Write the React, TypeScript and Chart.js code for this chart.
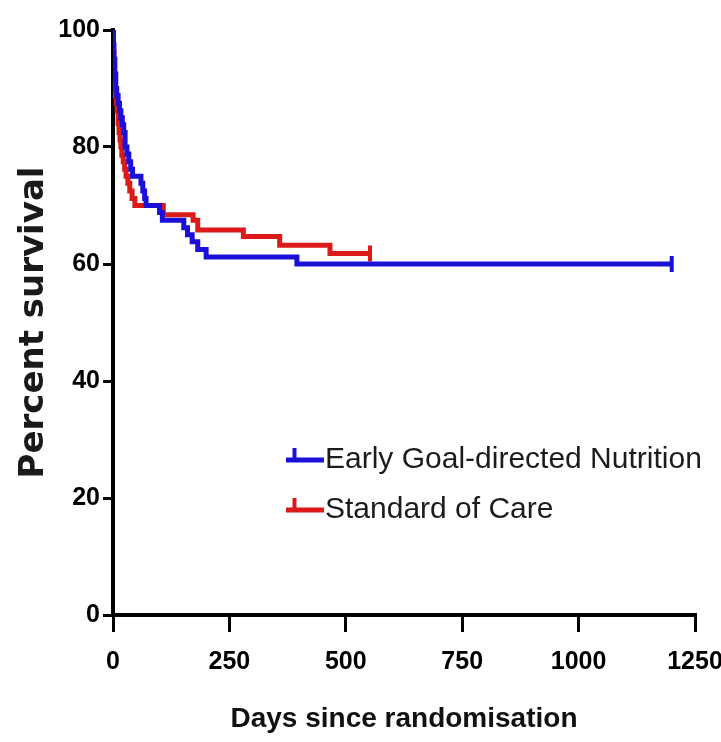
import React, { useEffect, useRef } from 'react';
import { Chart, registerables } from 'chart.js';

Chart.register(...registerables);

// ---- data ----
const seriesNames = ['Early Goal-directed Nutrition', 'Standard of Care'];

const egdnDays = [0, 1, 2, 4, 6, 8, 11, 14, 17, 20, 23, 26, 30, 34, 38, 42, 60, 64, 68, 71, 100, 106, 152, 160, 170, 182, 200, 395, 1200];
const egdnSurvival = [100, 97.5, 95, 92.5, 90, 88.8, 87.5, 86.2, 85, 83.8, 82.5, 80, 78.8, 77.5, 76.2, 75, 73.8, 72.5, 71.2, 70, 68.8, 67.5, 66.2, 65, 63.8, 62.5, 61.2, 60, 60];

const socDays = [0, 1, 2, 3, 5, 7, 9, 11, 13, 15, 17, 19, 22, 25, 28, 32, 36, 41, 47, 108, 172, 182, 280, 358, 466, 552];
const socSurvival = [100, 96.2, 93.8, 91.2, 88.8, 87.5, 86.2, 84, 82.5, 81.2, 80, 78.6, 77.5, 76.2, 75, 73.8, 72.5, 71.2, 70, 68.4, 67.5, 65.8, 64.7, 63.2, 61.8, 61.8];

const xTickValues = [0, 250, 500, 750, 1000, 1250];
const yTickValues = [0, 20, 40, 60, 80, 100];

const BLUE = '#1a10d8';
const RED = '#dc1a1a';
const SANS = "'Liberation Sans', Arial, sans-serif";

export default function App() {
  const ref = useRef<HTMLCanvasElement>(null);

  useEffect(() => {
    document.body.style.margin = '0';

    const makeIcon = (color: string) => {
      const c = document.createElement('canvas');
      c.width = 38;
      c.height = 30;
      const g = c.getContext('2d')!;
      g.strokeStyle = color;
      g.lineWidth = 5;
      g.beginPath();
      g.moveTo(0, 15);
      g.lineTo(38, 15);
      g.stroke();
      g.lineWidth = 4;
      g.beginPath();
      g.moveTo(9, 3);
      g.lineTo(9, 15);
      g.stroke();
      return c;
    };
    const icons = [makeIcon(BLUE), makeIcon(RED)];

    const toPoints = (xs: number[], ys: number[]) => xs.map((x, i) => ({ x, y: ys[i] }));
    const endMarks = (n: number) => Array.from({ length: n }, (_, i) => (i === n - 1 ? 8 : 0));

    const legendMover = {
      id: 'legendMover',
      afterLayout(chart: any) {
        const lg = chart.legend;
        if (!lg) return;
        const w = lg.width;
        const h = lg.height;
        lg.left = 279;
        lg.top = 425;
        lg.right = lg.left + w;
        lg.bottom = lg.top + h;
      },
    };

    const chart = new Chart(ref.current!, {
      type: 'line',
      data: {
        datasets: [
          {
            label: seriesNames[0],
            data: toPoints(egdnDays, egdnSurvival),
            borderColor: BLUE,
            backgroundColor: BLUE,
            borderWidth: 5,
            stepped: true,
            fill: false,
            pointRadius: endMarks(egdnDays.length),
            pointHoverRadius: 0,
            pointStyle: 'line',
            pointRotation: 90,
            pointBorderColor: BLUE,
            pointBorderWidth: 4,
          },
          {
            label: seriesNames[1],
            data: toPoints(socDays, socSurvival),
            borderColor: RED,
            backgroundColor: RED,
            borderWidth: 5,
            stepped: true,
            fill: false,
            pointRadius: endMarks(socDays.length),
            pointHoverRadius: 0,
            pointStyle: 'line',
            pointRotation: 90,
            pointBorderColor: RED,
            pointBorderWidth: 4,
          },
        ],
      },
      options: {
        responsive: false,
        animation: false,
        devicePixelRatio: 1,
        layout: { padding: { top: 30, right: 26, bottom: 0, left: 0 } },
        plugins: {
          tooltip: { enabled: false },
          legend: {
            position: 'chartArea' as any,
            align: 'start',
            labels: {
              usePointStyle: true,
              pointStyleWidth: 11,
              padding: 20,
              color: '#1c1c1c',
              font: { family: SANS, size: 30 },
              generateLabels: (c: any) => {
                const items = (Chart.defaults.plugins.legend.labels as any).generateLabels(c);
                items.forEach((it: any, i: number) => {
                  it.pointStyle = icons[i];
                  it.rotation = 0;
                });
                return items;
              },
            },
          },
        },
        scales: {
          x: {
            type: 'linear',
            min: 0,
            max: 1250,
            afterBuildTicks: (s: any) => {
              s.ticks = xTickValues.map((v) => ({ value: v }));
            },
            afterFit: (s: any) => {
              s.height = 127;
              s.paddingLeft = 0;
              s.paddingRight = 0;
            },
            grid: {
              display: true,
              drawOnChartArea: false,
              drawTicks: true,
              tickLength: 17,
              color: '#000',
              lineWidth: 3,
            },
            border: { display: true, color: '#000', width: 4 },
            ticks: {
              color: '#000',
              autoSkip: false,
              maxRotation: 0,
              padding: 15,
              font: { family: SANS, size: 25, weight: 'bold' },
              callback: (v: any) => String(v),
            },
            title: {
              display: true,
              text: 'Days since randomisation',
              color: '#111',
              font: { family: SANS, size: 28, weight: 'bold' },
              padding: { top: 0, bottom: 6 },
            },
          },
          y: {
            type: 'linear',
            min: 0,
            max: 100,
            afterBuildTicks: (s: any) => {
              s.ticks = yTickValues.map((v) => ({ value: v }));
            },
            afterFit: (s: any) => {
              s.width = 113;
              s.paddingTop = 0;
              s.paddingBottom = 0;
            },
            grid: {
              display: true,
              drawOnChartArea: false,
              drawTicks: true,
              tickLength: 10,
              color: '#000',
              lineWidth: 3,
            },
            border: { display: true, color: '#000', width: 4 },
            ticks: {
              color: '#000',
              padding: 3,
              font: { family: SANS, size: 25, weight: 'bold' },
              callback: (v: any) => String(v),
            },
            title: {
              display: true,
              text: 'Percent survival',
              color: '#1a1a1a',
              font: { family: "'DejaVu Sans', sans-serif", size: 34, weight: 'bold' },
              padding: { top: 14, bottom: 0 },
            },
          },
        },
      } as any,
      plugins: [legendMover],
    });

    return () => chart.destroy();
  }, []);

  return (
    <div style={{ width: 721, height: 742 }}>
      <canvas ref={ref} width={721} height={742} style={{ display: 'block' }} />
    </div>
  );
}
